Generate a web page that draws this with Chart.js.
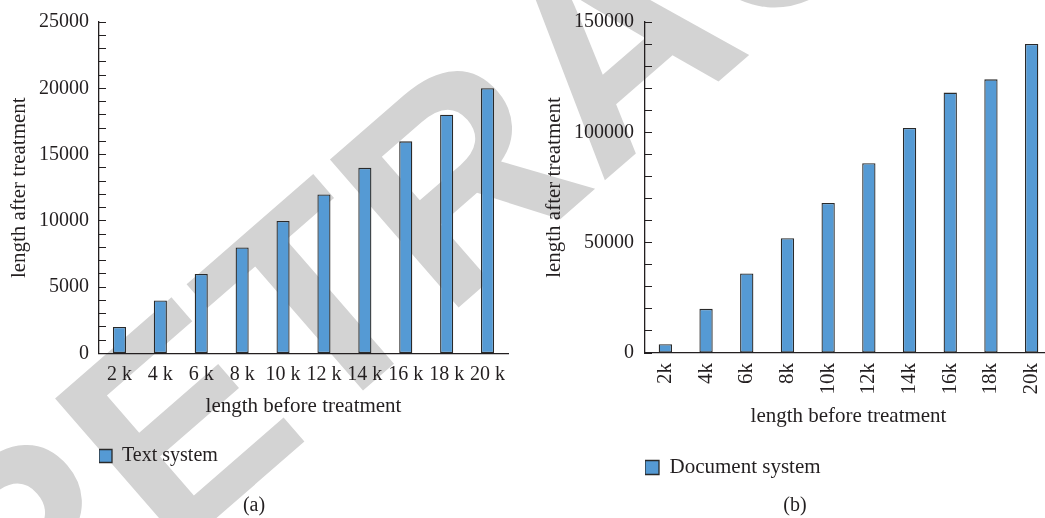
<!DOCTYPE html>
<html>
<head>
<meta charset="utf-8">
<script src="https://cdn.jsdelivr.net/npm/chart.js@4/dist/chart.umd.min.js"></script>
<style>
html,body{margin:0;padding:0;background:#fff;overflow:hidden;width:1045px;height:518px;position:relative;}
#wm{position:absolute;left:0;top:0;}
#c1{position:absolute;left:0;top:0;}
#c2{position:absolute;left:530px;top:0;}
</style>
</head>
<body>
<svg id="wm" width="1045" height="518"><text transform="translate(14,694) rotate(-41)" font-family="Liberation Sans, Arial, sans-serif" font-weight="bold" font-size="285" fill="#d3d3d3">RETRACTED</text></svg>
<canvas id="c1" width="530" height="518"></canvas>
<canvas id="c2" width="530" height="518"></canvas>
<script>
// ---- data ----
const categoriesA = ['2 k', '4 k', '6 k', '8 k', '10 k', '12 k', '14 k', '16 k', '18 k', '20 k'];
const valuesA = [2000, 4000, 6000, 8000, 10000, 12000, 14000, 16000, 18000, 20000];
const seriesA = 'Text system';
const panelA = '(a)';

const categoriesB = ['2k', '4k', '6k', '8k', '10k', '12k', '14k', '16k', '18k', '20k'];
const valuesB = [4000, 20000, 36000, 52000, 68000, 86000, 102000, 118000, 124000, 140000];
const seriesB = 'Document system';
const panelB = '(b)';

const xTitle = 'length before treatment';
const yTitle = 'length after treatment';

// ---- style ----
const INK = '#231f20';
const BAR = '#559ad4';
const BAR_EDGE = '#2a2a2a';
const SERIF = '"Liberation Serif", "Times New Roman", serif';

function buildChart(id, p) {
  return new Chart(document.getElementById(id), {
    type: 'bar',
    data: {
      labels: p.labels,
      datasets: [{
        label: p.name,
        data: p.values,
        backgroundColor: BAR,
        borderColor: BAR_EDGE,
        borderWidth: 1.3,
        borderSkipped: false,
        categoryPercentage: 1,
        barPercentage: p.barPct
      }]
    },
    options: {
      responsive: false,
      animation: false,
      events: [],
      layout: { padding: { top: 22, left: p.padLeft, right: p.padRight, bottom: 0 } },
      plugins: {
        tooltip: { enabled: false },
        legend: {
          display: true, position: 'bottom', align: 'start', fullSize: false,
          labels: { boxWidth: p.box, boxHeight: p.box, padding: 0, color: INK,
                    font: { family: SERIF, size: p.legendSize } }
        },
        title: {
          display: true, position: 'bottom', text: p.panel, color: INK, fullSize: true,
          font: { family: SERIF, size: 20, weight: 'normal' },
          padding: { top: p.panelPadTop, bottom: 0 }
        }
      },
      scales: {
        x: {
          type: 'category', offset: true,
          grid: { display: false, drawTicks: false },
          border: { display: true, color: INK, width: 1.3 },
          ticks: { color: INK, font: { family: SERIF, size: p.xTickSize }, padding: p.xTickPad,
                   autoSkip: false, minRotation: p.rot, maxRotation: p.rot },
          title: { display: true, text: xTitle, color: INK, font: { family: SERIF, size: 21 },
                   padding: { top: 0, bottom: p.xTitlePadBottom } },
          afterFit: s => { s.height = p.xAxisHeight; s.paddingLeft = 0; s.paddingRight = 0; }
        },
        y: {
          min: 0, max: p.yMax,
          grid: { drawOnChartArea: false, drawTicks: true, tickLength: -7, color: INK, lineWidth: 1 },
          border: { display: true, color: INK, width: 1.3 },
          ticks: { stepSize: p.yStep, color: INK, font: { family: SERIF, size: 20 }, padding: p.yTickPad,
                   autoSkip: false, callback: v => (v % p.yMajor === 0 ? String(v) : '') },
          title: { display: true, text: yTitle, color: INK, font: { family: SERIF, size: 21 },
                   padding: { top: p.yTitlePad, bottom: 0 } },
          afterFit: s => { s.width = p.yAxisWidth; s.paddingTop = 0; s.paddingBottom = 0; }
        }
      }
    }
  });
}

buildChart('c1', {
  labels: categoriesA, values: valuesA, name: seriesA, panel: panelA,
  barPct: 0.32, padLeft: 0, padRight: 22, box: 13, legendSize: 20, panelPadTop: 18,
  xTickSize: 20, xTickPad: 9.5, rot: 0, xTitlePadBottom: 27, xAxisHeight: 92.5,
  yMax: 25000, yStep: 1000, yMajor: 5000, yTickPad: 17, yTitlePad: 7, yAxisWidth: 99
});

buildChart('c2', {
  labels: categoriesB, values: valuesB, name: seriesB, panel: panelB,
  barPct: 0.327, padLeft: 8, padRight: 8, box: 14, legendSize: 21, panelPadTop: 6,
  xTickSize: 21, xTickPad: 10, rot: 90, xTitlePadBottom: 28, xAxisHeight: 104,
  yMax: 150000, yStep: 10000, yMajor: 50000, yTickPad: 18, yTitlePad: 4, yAxisWidth: 107
});
</script>
</body>
</html>
